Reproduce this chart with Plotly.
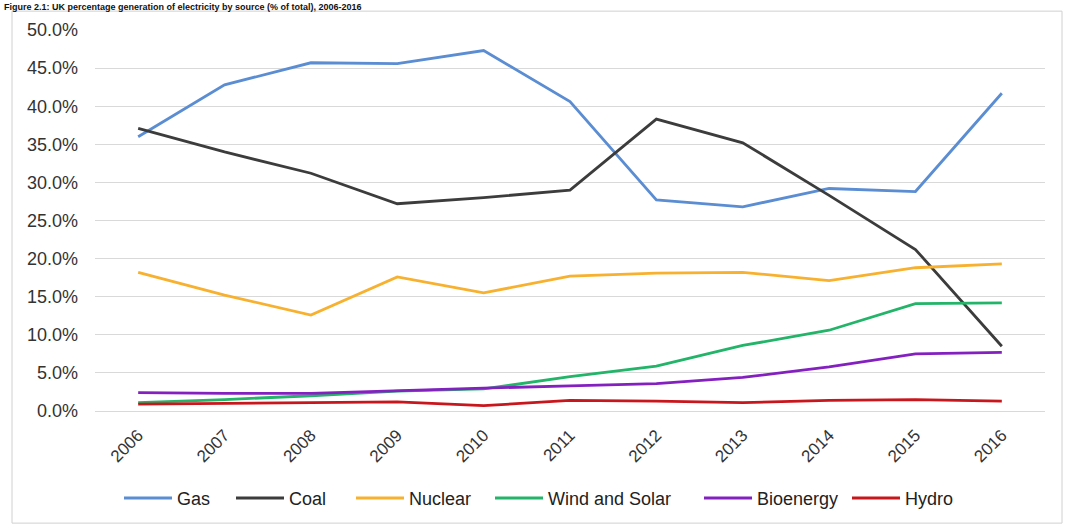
import plotly.graph_objects as go

years = ["2006", "2007", "2008", "2009", "2010", "2011", "2012", "2013", "2014", "2015", "2016"]
gas = [36.0, 42.8, 45.7, 45.6, 47.3, 40.6, 27.7, 26.8, 29.2, 28.8, 41.7]
coal = [37.1, 34.0, 31.2, 27.2, 28.0, 29.0, 38.3, 35.2, 28.3, 21.2, 8.5]
nuclear = [18.2, 15.2, 12.6, 17.6, 15.5, 17.7, 18.1, 18.2, 17.1, 18.8, 19.3]
wind_solar = [1.1, 1.5, 2.0, 2.6, 2.9, 4.5, 5.9, 8.6, 10.6, 14.1, 14.2]
bioenergy = [2.4, 2.3, 2.3, 2.7, 3.0, 3.3, 3.6, 4.4, 5.8, 7.5, 7.7]
hydro = [0.9, 1.0, 1.1, 1.2, 0.7, 1.4, 1.3, 1.1, 1.4, 1.5, 1.3]

series = [
    ("Gas", gas, "#5B8DD3"),
    ("Coal", coal, "#3C3C3C"),
    ("Nuclear", nuclear, "#F7B12E"),
    ("Wind and Solar", wind_solar, "#22B468"),
    ("Bioenergy", bioenergy, "#8420C0"),
    ("Hydro", hydro, "#C8161D"),
]

W, H = 1074, 529
L, R, T, B = 95, 29, 30, 115
pw, ph = W - L - R, H - T - B

def px(x):
    return (x - L) / pw

def py(y):
    return (H - B - y) / ph

legend_starts = [125, 237, 357, 496, 705, 853]

fig = go.Figure()
legend_layouts = {}
for i, (name, vals, color) in enumerate(series):
    key = "legend" if i == 0 else f"legend{i + 1}"
    fig.add_trace(go.Scatter(
        x=years, y=[v / 100 for v in vals], name=name, mode="lines",
        line=dict(color=color, width=2.8), legend=key,
    ))
    legend_layouts[key] = dict(
        x=px(legend_starts[i] - 6), xanchor="left", y=py(502), yanchor="middle",
        font=dict(size=18, color="#222222"), itemwidth=48,
        bgcolor="rgba(0,0,0,0)", borderwidth=0,
    )

fig.update_layout(
    width=W, height=H,
    margin=dict(l=L, r=R, t=T, b=B),
    paper_bgcolor="white", plot_bgcolor="white",
    font=dict(family="Liberation Sans, Arial, sans-serif", size=18, color="#333333"),
    showlegend=True,
    xaxis=dict(type="category", range=[-0.5, len(years) - 0.5], tickangle=-45,
               showgrid=False, showline=False, ticks="", ticklabelstandoff=10,
               tickfont=dict(size=17, color="#333333")),
    yaxis=dict(range=[0, 0.5], dtick=0.05, tickformat=".1%", showgrid=True,
               gridcolor="#D9D9D9", gridwidth=1, zeroline=True, zerolinecolor="#D9D9D9",
               zerolinewidth=1, showline=False, ticks="", ticklabelstandoff=16,
               tickfont=dict(size=18, color="#333333")),
    shapes=[dict(type="rect", xref="paper", yref="paper",
                 x0=px(12), x1=px(1062), y0=py(527), y1=py(11),
                 line=dict(color="#D0D0D0", width=1), layer="below")],
    annotations=[dict(text="<b>Figure 2.1: UK percentage generation of electricity by source (% of total), 2006-2016</b>",
                      xref="paper", yref="paper", x=px(2), y=py(0), xanchor="left", yanchor="top",
                      showarrow=False, font=dict(size=9, color="#111111"))],
)
fig.update_layout(**legend_layouts)

fig.write_html("out.html")
